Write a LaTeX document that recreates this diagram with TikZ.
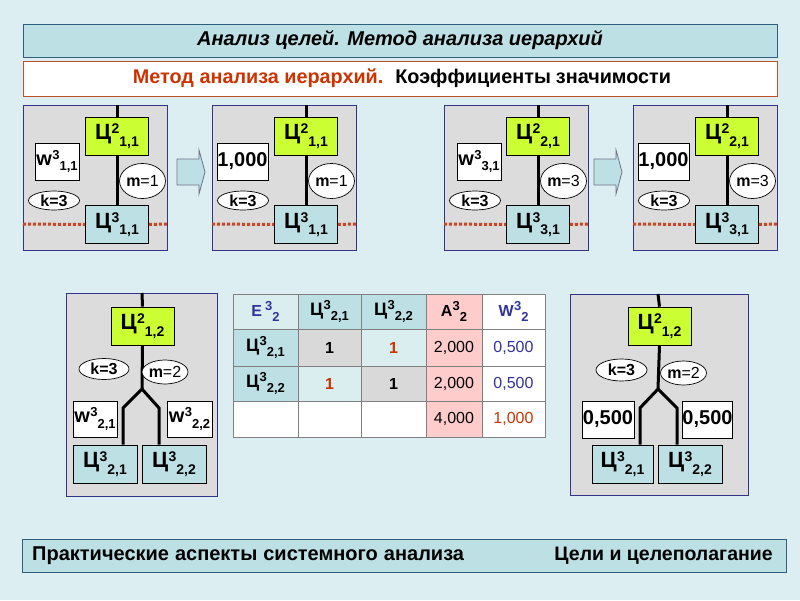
\documentclass[tikz,border=0pt]{standalone}
\usepackage{fontspec}
\setmainfont{Liberation Sans}
\usetikzlibrary{shapes.geometric}
\definecolor{bgcol}{HTML}{DCEEF1}
\definecolor{tealfill}{HTML}{BDE0E5}
\definecolor{lteal}{HTML}{DAEEF0}
\definecolor{pgray}{HTML}{DCDCDC}
\definecolor{cgray}{HTML}{D9D9D9}
\definecolor{pnlblue}{HTML}{333388}
\definecolor{yelgreen}{HTML}{CCFF33}
\definecolor{dotred}{HTML}{CC4422}
\definecolor{titred}{HTML}{CC3300}
\definecolor{tblue}{HTML}{333399}
\definecolor{pinkc}{HTML}{FFCCCC}
\definecolor{gridgray}{HTML}{808080}
\definecolor{tonebd}{HTML}{2F5F7F}
\definecolor{ttwobd}{HTML}{C0502A}
% base followed by raised superscript and lowered subscript: #1 base, #2 sup, #3 sub, #4 script size
\newcommand\symb[4]{#1\begingroup\fontsize{#4}{#4}\selectfont\kern0.03em\raisebox{0.45em}{#2}\raisebox{-0.45em}{#3}\endgroup}
\newcommand\bigC[2]{\symb{Ц}{#1}{#2}{14}}
\newcommand\wsym[1]{\symb{w}{3}{#1}{13}}
\tikzset{
  panel/.style={draw=pnlblue, fill=pgray, line width=0.9pt, inner sep=0pt, anchor=north west},
  goalA/.style={draw=black, fill=yelgreen, line width=0.7pt, minimum width=63pt, minimum height=38pt, inner sep=0pt, font=\bfseries\fontsize{22}{22}\selectfont},
  goalB/.style={goalA, fill=tealfill},
  wbox/.style={draw=black, fill=white, line width=0.7pt, minimum width=44pt, minimum height=37pt, inner sep=0pt, font=\bfseries\fontsize{20}{20}\selectfont},
  numbox/.style={wbox, font=\bfseries\fontsize{20}{20}\selectfont},
  oval/.style={ellipse, draw=black, fill=white, line width=0.7pt, inner sep=0pt, font=\fontsize{16}{16}\selectfont},
  dotline/.style={draw=dotred, line width=3pt, dash pattern=on 3pt off 2pt},
  stem/.style={draw=black, line width=3pt},
  fork/.style={draw=black, line width=3pt, line join=miter},
  tcell/.style={draw=gridgray, line width=0.8pt, inner sep=0pt, font=\fontsize{16}{16}\selectfont},
  harrow/.style={draw=gridgray!80!tblue, fill=tealfill, line width=0.8pt},
}
% top panel: #1 x, #2 prefix, #3 Ц2 sub, #4 left content, #5 left box options, #6 m value, #7 Ц3 sub
\newcommand\toppanel[7]{%
\begin{scope}[shift={(#1,105)}, name prefix=#2-]
  \node[panel, minimum width=144pt, minimum height=145pt] (pan) at (0,0) {};
  \coordinate (top) at (94,0);
  \coordinate (dl) at (0,119);
  \coordinate (dr) at (144,119);
  \node[goalA] (g2) at (94,31) {\bigC{2}{#3}};
  \node[goalB] (g3) at (94,119.5) {\bigC{3}{#7}};
  \draw[dotline] (dl) -- (g3.west);
  \draw[dotline] (g3.east) -- (dr);
  \draw[stem] (top) -- (g2.north);
  \draw[stem] (g2.south) -- (g3.north);
  \node[#5] (lb) {#4};
  \node[oval, minimum width=37pt, minimum height=35pt] (mo) at (119.5,76) {\textbf{m}=#6};
  \node[oval, minimum width=51pt, minimum height=19pt] (ko) at (31,95.5) {\textbf{k=3}};
\end{scope}}
\newcommand\harr[2]{%
\begin{scope}[shift={(#1,172)}]
  \draw[harrow] (-14,-13) -- (8,-13) -- (8,-22) -- (14,0) -- (8,22) -- (8,13) -- (-14,13) -- cycle;
  \node[inner sep=0pt] (#2) at (0,0) {};
\end{scope}}
\begin{document}
\begin{tikzpicture}[x=1pt,y=-1pt]
\useasboundingbox (0,0) rectangle (800,600);
\fill[bgcol] (0,0) rectangle (800,600);
% titles
\node[draw=tonebd, fill=tealfill, line width=0.9pt, minimum width=754pt, minimum height=33pt, inner sep=0pt,
      font=\bfseries\itshape\fontsize{20}{20}\selectfont] (t1) at (400,40.5) {Анализ целей. Метод анализа иерархий};
\node[draw=ttwobd, fill=white, line width=0.9pt, minimum width=754pt, minimum height=35pt, inner sep=0pt] (t2) at (400,78.5) {};
\node[inner sep=0pt, font=\bfseries\fontsize{19.8}{19.8}\selectfont] (t2txt) at (402,78.5) {\textcolor{titred}{Метод анализа иерархий.}\hspace{12pt}Коэффициенты\hspace{5pt}значимости};
% top panels
\toppanel{23}{p1}{1,1}{\wsym{1,1}}{wbox, at={(34,56.5)}}{1}{1,1}
\harr{191}{a1}
\toppanel{212}{p2}{1,1}{1,000}{numbox, minimum width=51pt, at={(30.5,56.5)}}{1}{1,1}
\toppanel{444}{p3}{2,1}{\wsym{3,1}}{wbox, at={(35,56.5)}}{3}{3,1}
\harr{608}{a2}
\toppanel{633}{p4}{2,1}{1,000}{numbox, minimum width=51pt, at={(30.5,56.5)}}{3}{3,1}
% bottom-left panel
\node[panel, minimum width=151pt, minimum height=203pt] (pl) at (66,293) {};
\coordinate (pltop) at (142,293);
\node[goalA] (l2) at (142.5,326) {\bigC{2}{1,2}};
\node[goalB, minimum width=64pt] (l31) at (105,464) {\bigC{3}{2,1}};
\node[goalB, minimum width=64pt] (l32) at (174,464) {\bigC{3}{2,2}};
\coordinate (lf) at (142,389);
\coordinate (lfa) at (123,408);
\coordinate (lfb) at (159,408);
\draw[stem] (pltop) -- (l2.north);
\draw[fork] (l2.south) -- (lf) -- (lfa) -- (lfa |- l31.north);
\draw[fork] (lf) -- (lfb) -- (lfb |- l32.north);
\node[wbox, minimum width=44pt, minimum height=36pt] (lw1) at (95,419) {\wsym{2,1}};
\node[wbox, minimum width=45pt, minimum height=36pt] (lw2) at (189.5,419) {\wsym{2,2}};
\node[oval, minimum width=50pt, minimum height=21pt] (lk) at (104,369) {\textbf{k=3}};
\node[oval, minimum width=34pt, minimum height=24pt] (lm) at (165,372) {\textbf{m}=2};
% bottom-right panel
\node[panel, minimum width=178pt, minimum height=201pt] (pr) at (570,294) {};
\coordinate (prtop) at (658,294);
\node[goalA] (r2) at (659.5,326) {\bigC{2}{1,2}};
\node[goalB, minimum width=61pt] (r31) at (622.5,464) {\bigC{3}{2,1}};
\node[goalB, minimum width=64pt] (r32) at (690,464) {\bigC{3}{2,2}};
\coordinate (rf) at (658,389);
\coordinate (rfa) at (640,408);
\coordinate (rfb) at (677,408);
\draw[stem] (prtop) -- (r2.north);
\draw[fork] (r2.south) -- (rf) -- (rfa) -- (rfa |- r31.north);
\draw[fork] (rf) -- (rfb) -- (rfb |- r32.north);
\node[numbox, minimum width=52pt, minimum height=37pt] (rw1) at (608,419.5) {0,500};
\node[numbox, minimum width=49pt, minimum height=37pt] (rw2) at (707.5,419.5) {0,500};
\node[oval, minimum width=51pt, minimum height=22pt] (rk) at (621.5,370) {\textbf{k=3}};
\node[oval, minimum width=39pt, minimum height=24pt] (rm) at (683.5,373) {\textbf{m}=2};
% table
\newcommand\tc[7]{\node[tcell, fill=#6, minimum width=#4pt, minimum height=#5pt] (#1) at #2 {#7};}
\def\tsym#1#2#3{\symb{#1}{#2}{#3}{13}}
% row 0
\tc{h0}{(265.5,311.5)}{}{65}{35}{lteal}{\textcolor{tblue}{\bfseries\fontsize{16}{16}\selectfont\tsym{Е\,}{3}{2}}}
\tc{h1}{(329.5,311.5)}{}{63}{35}{tealfill}{\bfseries\fontsize{18}{18}\selectfont\tsym{Ц}{3}{2,1}}
\tc{h2}{(393.5,311.5)}{}{65}{35}{tealfill}{\bfseries\fontsize{18}{18}\selectfont\tsym{Ц}{3}{2,2}}
\tc{h3}{(454,311.5)}{}{56}{35}{pinkc}{\bfseries\fontsize{16}{16}\selectfont\tsym{А}{3}{2}}
\tc{h4}{(513.5,311.5)}{}{63}{35}{white}{\textcolor{tblue}{\bfseries\fontsize{16}{16}\selectfont\tsym{W}{3}{2}}}
% row 1
\tc{a0}{(265.5,347.5)}{}{65}{37}{tealfill}{\bfseries\fontsize{18}{18}\selectfont\tsym{Ц}{3}{2,1}}
\tc{a1}{(329.5,347.5)}{}{63}{37}{cgray}{\bfseries 1}
\tc{a2}{(393.5,347.5)}{}{65}{37}{lteal}{\bfseries\textcolor{titred}{1}}
\tc{a3}{(454,347.5)}{}{56}{37}{pinkc}{\raisebox{-3pt}{2,000}}
\tc{a4}{(513.5,347.5)}{}{63}{37}{white}{\raisebox{-3pt}{\textcolor{tblue}{0,500}}}
% row 2
\tc{b0}{(265.5,383.5)}{}{65}{35}{tealfill}{\bfseries\fontsize{18}{18}\selectfont\tsym{Ц}{3}{2,2}}
\tc{b1}{(329.5,383.5)}{}{63}{35}{lteal}{\bfseries\textcolor{titred}{1}}
\tc{b2}{(393.5,383.5)}{}{65}{35}{cgray}{\bfseries 1}
\tc{b3}{(454,383.5)}{}{56}{35}{pinkc}{\raisebox{-3pt}{2,000}}
\tc{b4}{(513.5,383.5)}{}{63}{35}{white}{\raisebox{-3pt}{\textcolor{tblue}{0,500}}}
% row 3
\tc{c0}{(265.5,419)}{}{65}{36}{white}{}
\tc{c1}{(329.5,419)}{}{63}{36}{white}{}
\tc{c2}{(393.5,419)}{}{65}{36}{white}{}
\tc{c3}{(454,419)}{}{56}{36}{pinkc}{\raisebox{-3pt}{4,000}}
\tc{c4}{(513.5,419)}{}{63}{36}{white}{\raisebox{-3pt}{\textcolor{titred}{1,000}}}
% footer
\node[draw=tonebd, fill=tealfill, line width=0.9pt, minimum width=764pt, minimum height=33pt, inner sep=0pt] (ft) at (404,555.5) {};
\node[anchor=west, inner sep=0pt, font=\bfseries\fontsize{20}{20}\selectfont] (fl) at (32,555.5) {Практические\hspace{6pt}аспекты\hspace{6pt}системного\hspace{6pt}анализа};
\node[anchor=east, inner sep=0pt, font=\bfseries\fontsize{19.5}{19.5}\selectfont] (fr) at (773,555.5) {Цели и целеполагание};
\end{tikzpicture}
\end{document}
